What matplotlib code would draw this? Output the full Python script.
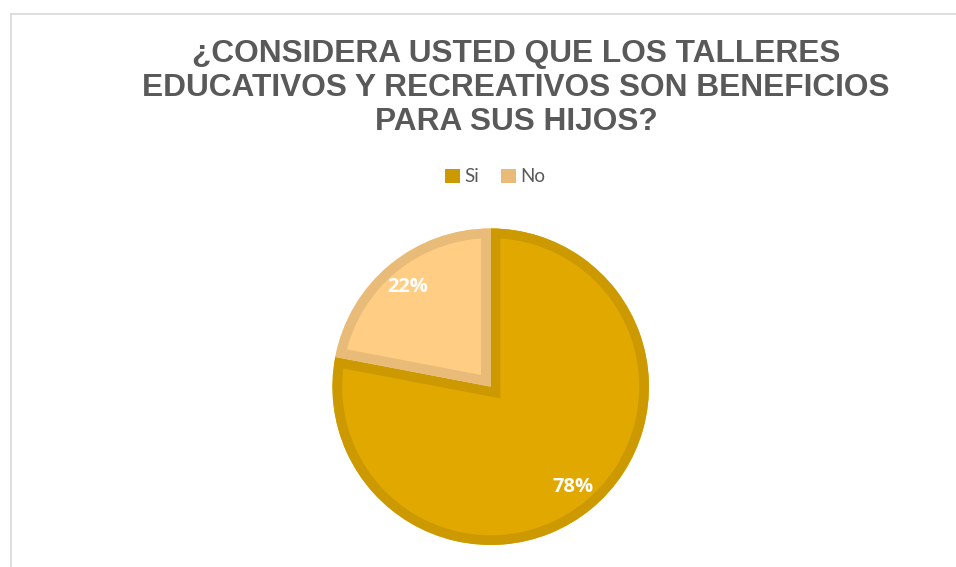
import matplotlib
matplotlib.use("Agg")
import matplotlib.pyplot as plt
from matplotlib.patches import Patch, Wedge
from matplotlib.lines import Line2D

categories = ["Si", "No"]
values = [78, 22]
title_lines = ["¿CONSIDERA USTED QUE LOS TALLERES",
               "EDUCATIVOS Y RECREATIVOS SON BENEFICIOS",
               "PARA SUS HIJOS?"]

fills = ["#E1A900", "#FFCD84"]
edges = ["#CC9A00", "#E8BC78"]

W, H = 956, 567
fig = plt.figure(figsize=(W / 100, H / 100), dpi=100)
ax = fig.add_axes([0, 0, 1, 1])

def Y(y):
    return H - y

wedges, texts, autotexts = ax.pie(
    values, colors=fills, startangle=90, counterclock=False,
    center=(490.7, Y(386.7)), radius=158.25,
    autopct="%1.0f%%", pctdistance=0.82,
    wedgeprops=dict(linewidth=0),
    textprops=dict(color="white", fontsize=14.5, fontweight="bold",
                   family="Open Sans"))
for w, ec in zip(wedges, edges):
    border = Wedge(w.center, w.r, w.theta1, w.theta2, facecolor="none",
                   edgecolor=ec, linewidth=14, joinstyle="miter",
                   zorder=w.get_zorder() + 0.1)
    ax.add_patch(border)
    border.set_clip_path(w)

for t in autotexts:
    t.set_zorder(5)

ax.set_xlim(0, W)
ax.set_ylim(0, H)
ax.set_aspect("auto")
ax.axis("off")

# frame
ax.add_line(Line2D([11, W], [Y(14), Y(14)], color="#D9D9D9", lw=1.2))
ax.add_line(Line2D([11, 11], [Y(14), 0], color="#D9D9D9", lw=1.2))

# title
for line, yb in zip(title_lines, [62, 96, 130]):
    ax.text(516, Y(yb), line, ha="center", va="baseline", fontsize=22.8,
            fontweight="bold", family="Liberation Sans", color="#595959")

handles = [Patch(facecolor=ec, edgecolor="none") for ec in edges]
ax.legend(handles, categories, loc="center", bbox_to_anchor=(495, Y(177)),
          bbox_transform=ax.transData, ncol=2, frameon=False,
          handlelength=0.8, handleheight=0.8, handletextpad=0.25,
          columnspacing=1.15, prop=dict(family="Lato", size=13.5),
          labelcolor="#595959")

fig.savefig("out.png", dpi=100)
